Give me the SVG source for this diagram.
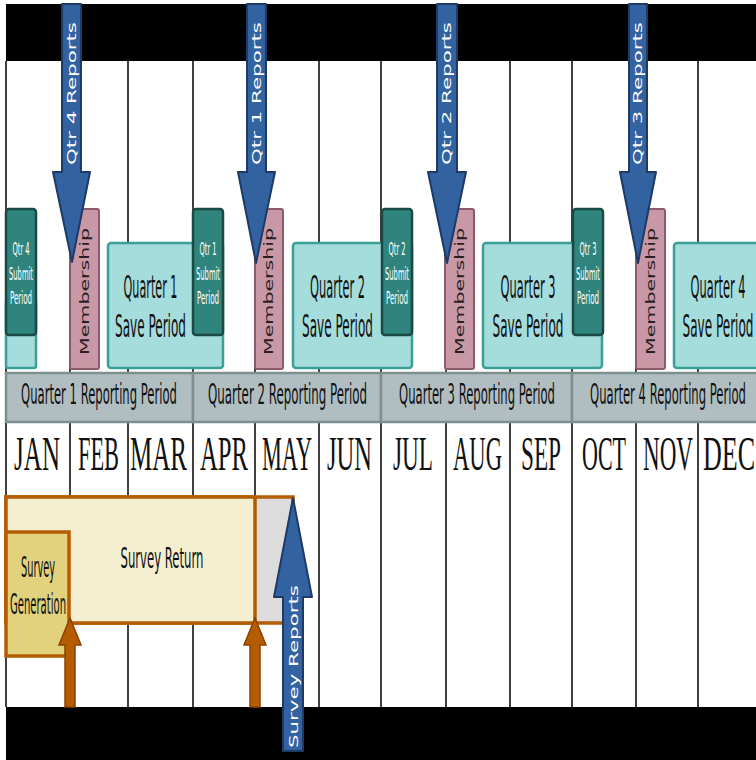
<svg xmlns="http://www.w3.org/2000/svg" width="756" height="760" viewBox="0 0 756 760">
<style>
.vline{stroke:#000;stroke-width:1.5}
.band{fill:#000}
.save{fill:#a5dcdc;stroke:#3a9f99;stroke-width:2.5}
.submit{fill:#2f857d;stroke:#1b4a45;stroke-width:2.5}
.memb{fill:#c898a6;stroke:#8c5a6a;stroke-width:2}
.rep{fill:#b0bec1;stroke:#7d8f91;stroke-width:2.5}
.barrow{fill:#3262a0;stroke:#1e3a66;stroke-width:2;stroke-linejoin:round}
.oarrow{fill:#b55c00;stroke:#8a4300;stroke-width:1.5}
.obox{stroke:#b55c00;stroke-width:3.5}
.narrow{font-family:"Liberation Sans Narrow","DejaVu Sans Condensed","Liberation Sans",sans-serif;text-anchor:middle}
.t-save{font-size:32px;fill:#111}
.t-sub{font-size:18px;fill:#fff}
.t-rep{font-size:28px;fill:#111}
.t-sr{font-size:28px;fill:#111}
.month{font-family:"Liberation Serif","DejaVu Serif",serif;font-size:48px;fill:#111;text-anchor:middle}
.rot{font-family:"DejaVu Sans","Liberation Sans",sans-serif;font-size:12px;text-anchor:middle}
.t-memb{fill:#2b1e22}
.t-arr{fill:#fff}
</style>
<rect x="0" y="0" width="756" height="760" fill="#fff"/>
<g id="grid">
<line class="vline" x1="6" y1="61" x2="6" y2="707"/>
<line class="vline" x1="70" y1="61" x2="70" y2="707"/>
<line class="vline" x1="128" y1="61" x2="128" y2="707"/>
<line class="vline" x1="193" y1="61" x2="193" y2="707"/>
<line class="vline" x1="255" y1="61" x2="255" y2="707"/>
<line class="vline" x1="319" y1="61" x2="319" y2="707"/>
<line class="vline" x1="381" y1="61" x2="381" y2="707"/>
<line class="vline" x1="446" y1="61" x2="446" y2="707"/>
<line class="vline" x1="510" y1="61" x2="510" y2="707"/>
<line class="vline" x1="572" y1="61" x2="572" y2="707"/>
<line class="vline" x1="636" y1="61" x2="636" y2="707"/>
<line class="vline" x1="698" y1="61" x2="698" y2="707"/>
<rect class="band" x="6" y="4" width="750" height="57"/>
<rect class="band" x="6" y="707" width="750" height="53"/>
</g>
<g id="save-periods">
<rect class="save" x="6" y="300" width="30" height="68" rx="2"/>
<g id="q1-save"><rect class="save" x="108" y="243" width="115" height="125" rx="3"/>
<text class="narrow t-save" x="150.5" y="298" textLength="54" lengthAdjust="spacingAndGlyphs">Quarter 1</text>
<text class="narrow t-save" x="150.5" y="337" textLength="71" lengthAdjust="spacingAndGlyphs">Save Period</text></g>
<g id="q2-save"><rect class="save" x="293" y="243" width="119" height="125" rx="3"/>
<text class="narrow t-save" x="337.5" y="298" textLength="55" lengthAdjust="spacingAndGlyphs">Quarter 2</text>
<text class="narrow t-save" x="337.5" y="337" textLength="71" lengthAdjust="spacingAndGlyphs">Save Period</text></g>
<g id="q3-save"><rect class="save" x="483" y="243" width="119" height="125" rx="3"/>
<text class="narrow t-save" x="528" y="298" textLength="55" lengthAdjust="spacingAndGlyphs">Quarter 3</text>
<text class="narrow t-save" x="528" y="337" textLength="71" lengthAdjust="spacingAndGlyphs">Save Period</text></g>
<g id="q4-save"><rect class="save" x="674" y="243" width="100" height="125" rx="3"/>
<text class="narrow t-save" x="718" y="298" textLength="55" lengthAdjust="spacingAndGlyphs">Quarter 4</text>
<text class="narrow t-save" x="718" y="337" textLength="71" lengthAdjust="spacingAndGlyphs">Save Period</text></g>
</g>
<g id="submit-periods">
<g id="qtr4-submit"><rect class="submit" x="6" y="209" width="30" height="126" rx="3"/>
<text class="narrow t-sub" x="21" y="255" textLength="17" lengthAdjust="spacingAndGlyphs">Qtr 4</text>
<text class="narrow t-sub" x="21" y="280" textLength="24" lengthAdjust="spacingAndGlyphs">Submit</text>
<text class="narrow t-sub" x="21" y="304" textLength="22" lengthAdjust="spacingAndGlyphs">Period</text></g>
<g id="qtr1-submit"><rect class="submit" x="193" y="209" width="30" height="126" rx="3"/>
<text class="narrow t-sub" x="208" y="255" textLength="17" lengthAdjust="spacingAndGlyphs">Qtr 1</text>
<text class="narrow t-sub" x="208" y="280" textLength="24" lengthAdjust="spacingAndGlyphs">Submit</text>
<text class="narrow t-sub" x="208" y="304" textLength="22" lengthAdjust="spacingAndGlyphs">Period</text></g>
<g id="qtr2-submit"><rect class="submit" x="382" y="209" width="30" height="126" rx="3"/>
<text class="narrow t-sub" x="397" y="255" textLength="17" lengthAdjust="spacingAndGlyphs">Qtr 2</text>
<text class="narrow t-sub" x="397" y="280" textLength="24" lengthAdjust="spacingAndGlyphs">Submit</text>
<text class="narrow t-sub" x="397" y="304" textLength="22" lengthAdjust="spacingAndGlyphs">Period</text></g>
<g id="qtr3-submit"><rect class="submit" x="573" y="209" width="30" height="126" rx="3"/>
<text class="narrow t-sub" x="588" y="255" textLength="17" lengthAdjust="spacingAndGlyphs">Qtr 3</text>
<text class="narrow t-sub" x="588" y="280" textLength="24" lengthAdjust="spacingAndGlyphs">Submit</text>
<text class="narrow t-sub" x="588" y="304" textLength="22" lengthAdjust="spacingAndGlyphs">Period</text></g>
</g>
<g id="membership">
<g id="memb1"><rect class="memb" x="70" y="209" width="29" height="160" rx="2"/>
<text class="rot t-memb" transform="translate(88.5,291.5) rotate(-90)" textLength="127" lengthAdjust="spacingAndGlyphs">Membership</text></g>
<g id="memb2"><rect class="memb" x="255" y="209" width="28" height="160" rx="2"/>
<text class="rot t-memb" transform="translate(273,291.5) rotate(-90)" textLength="127" lengthAdjust="spacingAndGlyphs">Membership</text></g>
<g id="memb3"><rect class="memb" x="445" y="209" width="29" height="160" rx="2"/>
<text class="rot t-memb" transform="translate(463.5,291.5) rotate(-90)" textLength="127" lengthAdjust="spacingAndGlyphs">Membership</text></g>
<g id="memb4"><rect class="memb" x="636" y="209" width="29" height="160" rx="2"/>
<text class="rot t-memb" transform="translate(654.5,291.5) rotate(-90)" textLength="127" lengthAdjust="spacingAndGlyphs">Membership</text></g>
</g>
<g id="connectors">
<g id="qtr4-reports"><path class="barrow" d="M62,4 H81 V172 H90 L72,262 L53,172 H62 Z"/>
<text class="rot t-arr" transform="translate(75.5,93.5) rotate(-90)" textLength="143" lengthAdjust="spacingAndGlyphs">Qtr 4 Reports</text></g>
<g id="qtr1-reports"><path class="barrow" d="M247,4 H266 V172 H275 L256,263 L238,172 H247 Z"/>
<text class="rot t-arr" transform="translate(260.5,93.5) rotate(-90)" textLength="143" lengthAdjust="spacingAndGlyphs">Qtr 1 Reports</text></g>
<g id="qtr2-reports"><path class="barrow" d="M437,4 H457 V172 H466 L447,263 L428,172 H437 Z"/>
<text class="rot t-arr" transform="translate(451,93.5) rotate(-90)" textLength="143" lengthAdjust="spacingAndGlyphs">Qtr 2 Reports</text></g>
<g id="qtr3-reports"><path class="barrow" d="M629,4 H647 V172 H656 L638,263 L620,172 H629 Z"/>
<text class="rot t-arr" transform="translate(642,93.5) rotate(-90)" textLength="143" lengthAdjust="spacingAndGlyphs">Qtr 3 Reports</text></g>
</g>
<g id="reporting-periods">
<g id="q1-rep"><rect class="rep" x="6" y="373" width="187" height="49"/>
<text class="narrow t-rep" x="99" y="404" textLength="156" lengthAdjust="spacingAndGlyphs">Quarter 1 Reporting Period</text></g>
<g id="q2-rep"><rect class="rep" x="193" y="373" width="188" height="49"/>
<text class="narrow t-rep" x="287.5" y="404" textLength="159" lengthAdjust="spacingAndGlyphs">Quarter 2 Reporting Period</text></g>
<g id="q3-rep"><rect class="rep" x="381" y="373" width="191" height="49"/>
<text class="narrow t-rep" x="477" y="404" textLength="156" lengthAdjust="spacingAndGlyphs">Quarter 3 Reporting Period</text></g>
<g id="q4-rep"><rect class="rep" x="572" y="373" width="186" height="49"/>
<text class="narrow t-rep" x="668" y="404" textLength="156" lengthAdjust="spacingAndGlyphs">Quarter 4 Reporting Period</text></g>
</g>
<g id="months">
<text class="month" x="37" y="470" textLength="46" lengthAdjust="spacingAndGlyphs">JAN</text>
<text class="month" x="98.5" y="470" textLength="41" lengthAdjust="spacingAndGlyphs">FEB</text>
<text class="month" x="158.5" y="470" textLength="57" lengthAdjust="spacingAndGlyphs">MAR</text>
<text class="month" x="224" y="470" textLength="48" lengthAdjust="spacingAndGlyphs">APR</text>
<text class="month" x="287" y="470" textLength="50" lengthAdjust="spacingAndGlyphs">MAY</text>
<text class="month" x="349.5" y="470" textLength="45" lengthAdjust="spacingAndGlyphs">JUN</text>
<text class="month" x="413" y="470" textLength="40" lengthAdjust="spacingAndGlyphs">JUL</text>
<text class="month" x="477.5" y="470" textLength="49" lengthAdjust="spacingAndGlyphs">AUG</text>
<text class="month" x="541" y="470" textLength="40" lengthAdjust="spacingAndGlyphs">SEP</text>
<text class="month" x="604" y="470" textLength="44" lengthAdjust="spacingAndGlyphs">OCT</text>
<text class="month" x="668" y="470" textLength="50" lengthAdjust="spacingAndGlyphs">NOV</text>
<text class="month" x="729" y="470" textLength="52" lengthAdjust="spacingAndGlyphs">DEC</text>
</g>
<g id="survey">
<g id="survey-return"><rect class="obox" x="6" y="497" width="287" height="126" fill="#dcdcdc"/>
<rect class="obox" x="6" y="497" width="249" height="126" fill="#f5efd1"/>
<text class="narrow t-sr" x="162" y="568" textLength="83" lengthAdjust="spacingAndGlyphs">Survey Return</text></g>
<g id="survey-generation"><rect class="obox" x="6" y="532" width="63" height="124" fill="#e2d27e"/>
<text class="narrow t-sr" x="38" y="577" textLength="34" lengthAdjust="spacingAndGlyphs">Survey</text>
<text class="narrow t-sr" x="38" y="614" textLength="56" lengthAdjust="spacingAndGlyphs">Generation</text></g>
</g>
<g id="survey-connectors">
<path class="oarrow" d="M65,707 V645 H59 L70,618 L81,645 H75 V707 Z"/>
<path class="oarrow" d="M250,707 V645 H244 L255,618 L266,645 H260 V707 Z"/>
<g id="survey-reports"><path class="barrow" d="M283,751 V597 H274 L293,498 L312,597 H303 V751 Z"/>
<text class="rot t-arr" transform="translate(297.5,666.5) rotate(-90)" textLength="163" lengthAdjust="spacingAndGlyphs">Survey Reports</text></g>
</g>
</svg>
